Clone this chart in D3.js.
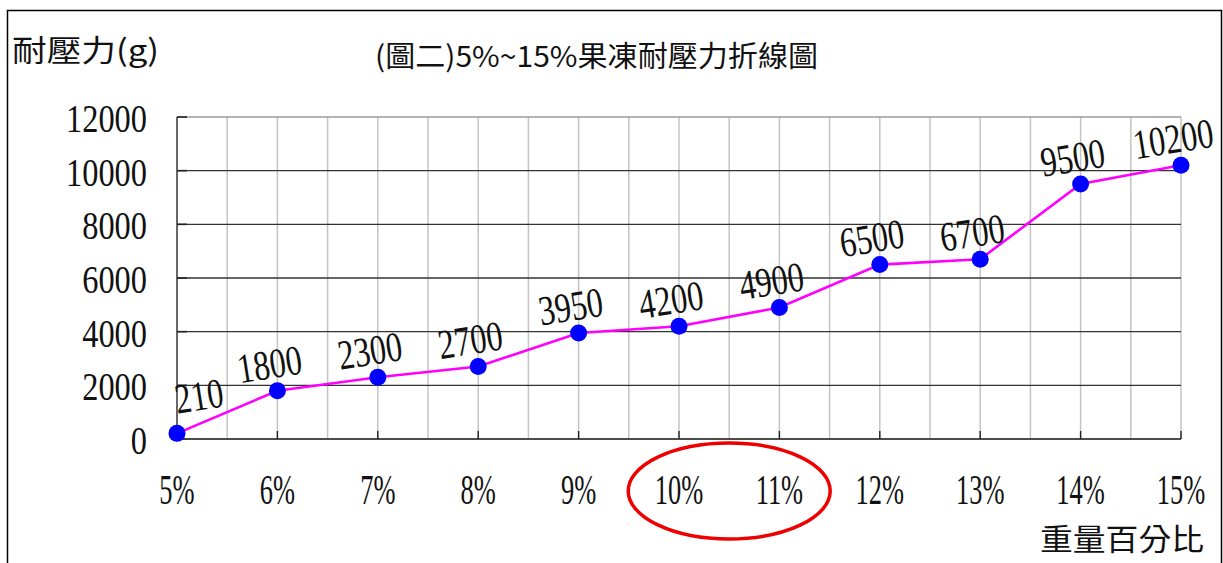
<!DOCTYPE html>
<html><head><meta charset="utf-8">
<script src="https://cdn.jsdelivr.net/npm/d3@7"></script>
<style>html,body{margin:0;padding:0;background:#fff;}svg{display:block;}</style>
</head><body>
<svg id="c" width="1223" height="563"></svg>
<script>
const categories = ["5%","6%","7%","8%","9%","10%","11%","12%","13%","14%","15%"];
const values = [210,1800,2300,2700,3950,4200,4900,6500,6700,9500,10200];
const yTicks = [0,2000,4000,6000,8000,10000,12000];
const titleText = "(圖二)5%~15%果凍耐壓力折線圖";
const yTitle = "耐壓力(g)";
const xTitle = "重量百分比";
const highlighted = ["10%","11%"];

(function () {
const svg = d3.select("#c");
const pL = 177, pR = 1181, pT = 117, pB = 439;
const x = d3.scalePoint().domain(categories).range([pL, pR]);
const y = d3.scaleLinear().domain([0, 12000]).range([pB, pT]);
const step = x.step();
const numFont = "'Liberation Serif', 'DejaVu Serif', serif";
const cjkFont = "'Noto Sans CJK TC', 'Noto Sans CJK SC', sans-serif";

// outer frame
svg.append("rect").attr("x", 7.5).attr("y", 10.5).attr("width", 1214).attr("height", 600)
  .attr("fill", "none").attr("stroke", "#000").attr("stroke-width", 1.5);

// vertical grid (half-category)
const halfPos = d3.range(0, categories.length * 2 - 1).map(i => pL + i * step / 2);
svg.append("g").selectAll("line").data(halfPos).join("line")
  .attr("x1", d => d).attr("x2", d => d).attr("y1", pT).attr("y2", pB)
  .attr("stroke", "#c4c4c4").attr("stroke-width", 1.5);

// horizontal grid
svg.append("g").selectAll("line").data(yTicks).join("line")
  .attr("x1", pL).attr("x2", pR).attr("y1", d => y(d)).attr("y2", d => y(d))
  .attr("stroke", d => d === 12000 ? "#9a9a9a" : "#333").attr("stroke-width", d => d === 12000 ? 1.5 : 1.3);

// left axis line + ticks
svg.append("line").attr("x1", pL).attr("x2", pL).attr("y1", pT).attr("y2", pB)
  .attr("stroke", "#444").attr("stroke-width", 1.5);
svg.append("g").selectAll("line").data(yTicks).join("line")
  .attr("x1", pL).attr("x2", pL + 10).attr("y1", d => y(d)).attr("y2", d => y(d))
  .attr("stroke", "#222").attr("stroke-width", 1.6);
// bottom axis ticks
svg.append("line").attr("x1", pL).attr("x2", pR).attr("y1", pB).attr("y2", pB)
  .attr("stroke", "#444").attr("stroke-width", 1.5);
svg.append("g").selectAll("line").data(categories.slice(1)).join("line")
  .attr("x1", d => x(d)).attr("x2", d => x(d)).attr("y1", pB).attr("y2", pB - 8)
  .attr("stroke", "#222").attr("stroke-width", 1.4);

// y tick labels
svg.append("g").selectAll("text").data(yTicks).join("text")
  .attr("transform", d => `translate(147,${y(d) + 15}) scale(0.79,1)`)
  .attr("text-anchor", "end").attr("font-family", numFont).attr("font-size", 41)
  .attr("fill", "#111").text(d => d);

// x tick labels
svg.append("g").selectAll("text").data(categories).join("text")
  .attr("transform", d => `translate(${x(d)},504) scale(0.63,1)`)
  .attr("text-anchor", "middle").attr("font-family", numFont).attr("font-size", 42)
  .attr("fill", "#111").text(d => d);

// line
const line = d3.line().x((d, i) => x(categories[i])).y(d => y(d));
svg.append("path").datum(values).attr("d", line)
  .attr("fill", "none").attr("stroke", "#ff00ff").attr("stroke-width", 2.6);

// points
svg.append("g").selectAll("circle").data(values).join("circle")
  .attr("cx", (d, i) => x(categories[i])).attr("cy", d => y(d)).attr("r", 8.5)
  .attr("fill", "#0000ff");

// data labels
svg.append("g").selectAll("text").data(values).join("text")
  .attr("transform", (d, i) => {
    const px = x(categories[i]) + (i === 0 ? 22 : -8);
    const py = y(d) + (i === 0 ? -38 : -27);
    return `translate(${px},${py}) rotate(-9) scale(0.77,1)`;
  })
  .attr("text-anchor", "middle").attr("dy", "0.35em")
  .attr("font-family", numFont).attr("font-size", 42).attr("fill", "#111").text(d => d);

// titles
svg.append("text").attr("x", 375).attr("y", 67).attr("font-family", cjkFont).attr("font-size", 29)
  .attr("textLength", 443).attr("lengthAdjust", "spacingAndGlyphs").attr("fill", "#111").text(titleText);
svg.append("text").attr("x", 12).attr("y", 61).attr("font-family", cjkFont).attr("font-size", 30)
  .attr("textLength", 147).attr("lengthAdjust", "spacingAndGlyphs").attr("fill", "#111").text(yTitle);
svg.append("text").attr("x", 1040).attr("y", 550).attr("font-family", cjkFont).attr("font-size", 30)
  .attr("textLength", 164).attr("lengthAdjust", "spacingAndGlyphs").attr("fill", "#111").text(xTitle);

// highlight ellipse around categories
const hx = (x(highlighted[0]) + x(highlighted[1])) / 2;
svg.append("ellipse").attr("cx", hx).attr("cy", 491).attr("rx", 101).attr("ry", 48)
  .attr("fill", "none").attr("stroke", "#ee0000").attr("stroke-width", 3.5);
})();
</script>
</body></html>
